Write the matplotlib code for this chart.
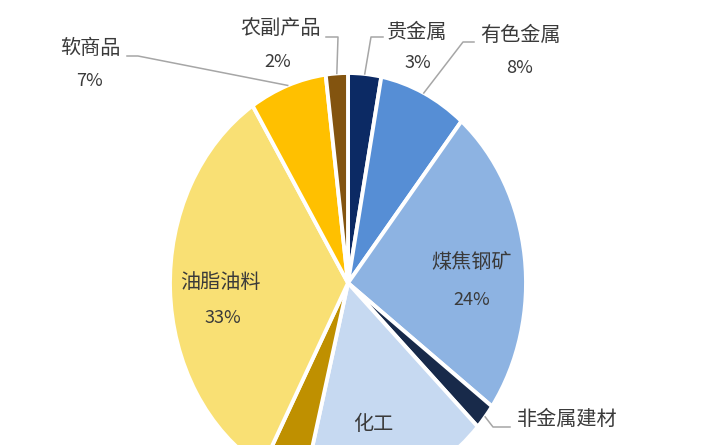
import numpy as np
import matplotlib.pyplot as plt

plt.rcParams['font.family'] = ['Noto Sans CJK SC', 'DejaVu Sans']

# ── Data ───────────────────────────────────────────────────────────────────────
sectors = ['贵金属', '有色金属', '煤焦钢矿', '非金属建材', '化工', '谷物', '油脂油料', '软商品', '农副产品']
shares  = [3, 8, 24, 2, 17, 4, 33, 7, 2]
colors  = ['#0C2A64', '#568ED5', '#8DB3E2', '#182A4A', '#C6D9F1', '#BF9000', '#F9E074', '#FFC000', '#83540F']

# ── Layout (pixel positions in the 720x445 canvas) ─────────────────────────────
W, H = 720, 445
CX, CY, RX, RY = 348, 283, 178, 210

def px(x, y):
    return (x - CX) / RX, (CY - y) / RY

# labels whose position falls below the crop are simply not drawn
name_pos = {'贵金属': (417, 32), '有色金属': (520, 35), '煤焦钢矿': (472, 263),
            '非金属建材': (567, 419), '化工': (373, 425),
            '油脂油料': (220, 282), '软商品': (90, 48), '农副产品': (281, 28)}
pct_pos = {'贵金属': (418, 63), '有色金属': (520, 68), '煤焦钢矿': (472, 300),
           '非金属建材': (567, 453),
           '油脂油料': (223, 318), '软商品': (90, 81), '农副产品': (278, 62)}
# leader lines: points from text side toward the wedge
leaders = {'农副产品': [(326, 37), (338, 37)],
           '贵金属': [(383, 37), (371, 37)],
           '有色金属': [(474, 42), (463, 42)],
           '软商品': [(127, 56), (138, 56)],
           '非金属建材': [(510, 427), (493, 427)]}

fig = plt.figure(figsize=(7.2, 4.45), dpi=100)
ax = fig.add_axes([0, 0, 1, 1])

wedges, _ = ax.pie(shares, colors=colors, startangle=90, counterclock=False,
                   radius=1, wedgeprops={'edgecolor': 'white', 'linewidth': 2.8})
ax.set_aspect('auto')
x0, y1 = px(0, 0)
x1, y0 = px(W, H)
ax.set_xlim(x0, x1)
ax.set_ylim(y0, y1)
ax.axis('off')

txt_color = '#3A3A3A'
for name, share, w in zip(sectors, shares, wedges):
    if name in name_pos:
        tx, ty = px(*name_pos[name])
        ax.text(tx, ty, name, ha='center', va='center', fontsize=14.5, color=txt_color)
    if name in pct_pos:
        qx, qy = px(*pct_pos[name])
        ax.text(qx, qy, f'{share}%', ha='center', va='center', fontsize=13, color=txt_color)
    if name in leaders:
        mid = np.deg2rad((w.theta1 + w.theta2) / 2)
        pts = [px(*p) for p in leaders[name]] + [(np.cos(mid), np.sin(mid))]
        ax.plot([p[0] for p in pts], [p[1] for p in pts], color='#A6A6A6', lw=1.1)

fig.savefig('out.png', dpi=100)
